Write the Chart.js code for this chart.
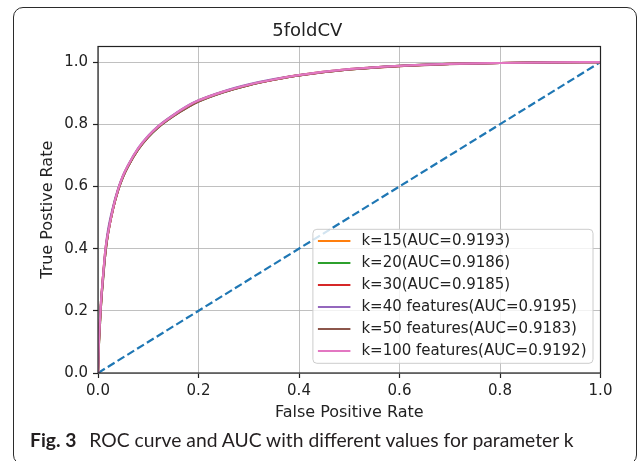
<!DOCTYPE html>
<html>
<head>
<meta charset="utf-8">
<script src="https://cdn.jsdelivr.net/npm/chart.js@4.4.0/dist/chart.umd.min.js"></script>
<style>
  html, body { margin: 0; padding: 0; background: #fff; }
  #wrap { position: relative; width: 637px; height: 461px; overflow: hidden; }
  #roc { position: absolute; left: 0; top: 0; }
  #frame {
    position: absolute; left: 13px; top: 7px; width: 624px; height: 458px;
    border: 1.5px solid #2b2b2b; border-radius: 10px; box-sizing: border-box;
  }
  #caption {
    position: absolute; left: 30px; top: 428px;
    font: 19.3px Lato, "Noto Sans", sans-serif; color: #231f20; white-space: nowrap;
  }
  #caption b { font-weight: 700; margin-right: 8px; }
</style>
</head>
<body>
<div id="wrap">
  <canvas id="roc" width="637" height="461"></canvas>
  <div id="frame"></div>
  <div id="caption"><b>Fig. 3</b> ROC curve and AUC with different values for parameter k</div>
</div>
<script>
// ROC points (shared false positive rates)
const fpr = [0, 0.001, 0.002, 0.004, 0.006, 0.01, 0.015, 0.02, 0.03, 0.04, 0.05, 0.06, 0.08, 0.10,
  0.12, 0.15, 0.18, 0.20, 0.25, 0.30, 0.35, 0.40, 0.50, 0.60, 0.70, 0.80, 0.90, 1.0];

const tprK15 = [0, 0.06, 0.11, 0.17, 0.23, 0.31, 0.40, 0.45, 0.53, 0.59, 0.634, 0.667, 0.721, 0.761,
  0.793, 0.829, 0.859, 0.876, 0.905, 0.927, 0.944, 0.958, 0.977, 0.988, 0.994, 0.997, 0.999, 1];
const tprK20 = [0, 0.05, 0.10, 0.16, 0.22, 0.30, 0.39, 0.45, 0.53, 0.588, 0.632, 0.665, 0.719, 0.759,
  0.790, 0.826, 0.856, 0.873, 0.903, 0.926, 0.943, 0.957, 0.976, 0.988, 0.994, 0.997, 0.999, 1];
const tprK30 = [0, 0.06, 0.10, 0.17, 0.22, 0.31, 0.39, 0.45, 0.528, 0.588, 0.633, 0.666, 0.720, 0.760,
  0.791, 0.827, 0.857, 0.874, 0.904, 0.926, 0.943, 0.957, 0.976, 0.987, 0.994, 0.997, 0.999, 1];
const tprK40 = [0, 0.07, 0.11, 0.18, 0.23, 0.31, 0.40, 0.46, 0.535, 0.592, 0.636, 0.669, 0.723, 0.763,
  0.794, 0.830, 0.861, 0.877, 0.906, 0.928, 0.945, 0.958, 0.977, 0.988, 0.994, 0.997, 0.999, 1];
const tprK50 = [0, 0.05, 0.10, 0.16, 0.22, 0.30, 0.39, 0.448, 0.528, 0.587, 0.631, 0.665, 0.719, 0.759,
  0.790, 0.826, 0.856, 0.873, 0.903, 0.926, 0.943, 0.957, 0.976, 0.987, 0.993, 0.997, 0.999, 1];
const tprK100 = [0, 0.06, 0.11, 0.17, 0.23, 0.31, 0.40, 0.45, 0.53, 0.59, 0.635, 0.668, 0.722, 0.762,
  0.793, 0.829, 0.860, 0.876, 0.905, 0.927, 0.944, 0.958, 0.977, 0.988, 0.994, 0.997, 0.999, 1];

// chance line
const diagX = [0, 1];
const diagY = [0, 1];

const seriesLabels = [
  "k=15(AUC=0.9193)",
  "k=20(AUC=0.9186)",
  "k=30(AUC=0.9185)",
  "k=40 features(AUC=0.9195)",
  "k=50 features(AUC=0.9183)",
  "k=100 features(AUC=0.9192)"
];
const seriesTpr = [tprK15, tprK20, tprK30, tprK40, tprK50, tprK100];

const tickValues = [0, 0.2, 0.4, 0.6, 0.8, 1.0];
const tickLabels = ["0.0", "0.2", "0.4", "0.6", "0.8", "1.0"];

const colors = ["#ff7f0e", "#2ca02c", "#d62728", "#9467bd", "#8c564b", "#e377c2"];

Chart.defaults.font.family = '"DejaVu Sans", sans-serif';
Chart.defaults.color = "#222";

function toPoints(xs, ys) {
  return xs.map((x, i) => ({ x: x, y: ys[i] }));
}

const datasets = [
  {
    label: "",
    data: toPoints(diagX, diagY),
    borderColor: "#1f77b4",
    borderWidth: 2.2,
    borderDash: [8, 3.5],
    order: 10
  }
].concat(seriesLabels.map((label, i) => ({
  label: label,
  data: toPoints(fpr, seriesTpr[i]),
  borderColor: colors[i],
  borderWidth: 2.2,
  cubicInterpolationMode: "monotone",
  order: 6 - i // last series drawn on top
})));

// axes frame on all four sides
const axesFrame = {
  id: "axesFrame",
  afterDatasetsDraw(chart) {
    const { ctx, chartArea: a } = chart;
    ctx.save();
    ctx.strokeStyle = "#222";
    ctx.lineWidth = 1.2;
    ctx.strokeRect(a.left, a.top, a.right - a.left, a.bottom - a.top);
    ctx.restore();
  }
};

// legend in lower right, inside the axes
const insideLegend = {
  id: "insideLegend",
  afterDraw(chart) {
    const { ctx, chartArea } = chart;
    const items = chart.data.datasets.filter((d) => d.label);
    items.sort((p, q) => seriesLabels.indexOf(p.label) - seriesLabels.indexOf(q.label));
    ctx.save();
    ctx.font = '15px "DejaVu Sans"';
    const textW = Math.max(...items.map((d) => ctx.measureText(d.label).width));
    const w = 48.5 + textW + 6.5;
    const rowH = 22;
    const h = items.length * rowH + 2;
    const x = chartArea.right - 7.5 - w;
    const y = chartArea.bottom - 9.7 - h;

    ctx.beginPath();
    ctx.roundRect(x, y, w, h, 4);
    ctx.fillStyle = "rgba(255,255,255,0.8)";
    ctx.fill();
    ctx.strokeStyle = "#cccccc";
    ctx.lineWidth = 1;
    ctx.stroke();

    ctx.textBaseline = "middle";
    ctx.textAlign = "left";
    items.forEach((d, i) => {
      const cy = y + 11.7 + i * rowH;
      ctx.beginPath();
      ctx.moveTo(x + 5, cy);
      ctx.lineTo(x + 37.5, cy);
      ctx.strokeStyle = d.borderColor;
      ctx.lineWidth = 2.2;
      ctx.stroke();
      ctx.fillStyle = "#222";
      ctx.fillText(d.label, x + 48.5, cy + 0.5);
    });
    ctx.restore();
  }
};

function fixedTicks(scale) {
  scale.ticks = tickValues.map((v) => ({ value: v }));
}

new Chart(document.getElementById("roc"), {
  type: "scatter",
  data: { datasets: datasets },
  options: {
    responsive: false,
    animation: false,
    showLine: true,
    elements: { point: { radius: 0, hoverRadius: 0 } },
    layout: { padding: { left: 14, right: 36.5, top: 0, bottom: 30 } },
    plugins: {
      legend: { display: false },
      tooltip: { enabled: false },
      title: {
        display: true,
        text: "5foldCV",
        color: "#222",
        font: { size: 18, weight: "normal" },
        padding: { top: 20.9, bottom: 4 }
      }
    },
    scales: {
      x: {
        type: "linear",
        min: 0,
        max: 1,
        afterBuildTicks: fixedTicks,
        afterFit: (s) => { s.height = 58; },
        grid: { color: "#b0b0b0", lineWidth: 0.8, tickColor: "#222", tickLength: 5, tickWidth: 1.2 },
        border: { display: false },
        ticks: {
          padding: 4,
          color: "#222",
          font: { size: 15 },
          maxRotation: 0,
          callback: (v, i) => tickLabels[i]
        },
        title: {
          display: true,
          text: "False Positive Rate",
          color: "#222",
          font: { size: 16 },
          padding: { top: 0, bottom: 8.4 }
        }
      },
      y: {
        type: "linear",
        min: 0,
        max: 1.05,
        afterBuildTicks: fixedTicks,
        afterFit: (s) => { s.width = 84; },
        grid: { color: "#b0b0b0", lineWidth: 0.8, tickColor: "#222", tickLength: 5, tickWidth: 1.2 },
        border: { display: false },
        ticks: {
          padding: 5,
          color: "#222",
          font: { size: 15 },
          callback: (v, i) => tickLabels[i]
        },
        title: {
          display: true,
          text: "True Postive Rate",
          color: "#222",
          font: { size: 16 },
          padding: { top: 24.5, bottom: 0 }
        }
      }
    }
  },
  plugins: [axesFrame, insideLegend]
});
</script>
</body>
</html>
